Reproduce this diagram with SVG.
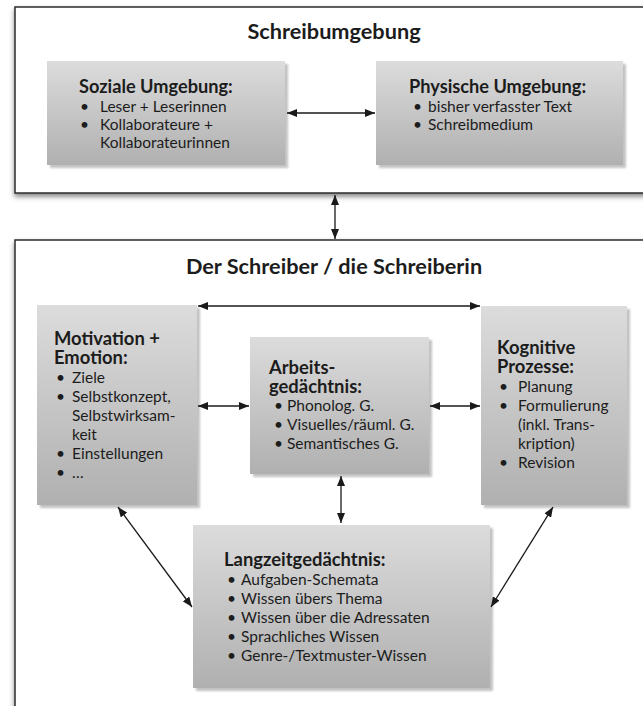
<svg xmlns="http://www.w3.org/2000/svg" width="643" height="706" viewBox="0 0 643 706">
<defs>
<linearGradient id="g" x1="0" y1="0" x2="0" y2="1">
<stop offset="0" stop-color="#dcdcdc"/>
<stop offset="1" stop-color="#b0b0b0"/>
</linearGradient>
<filter id="sh" x="-10%" y="-10%" width="130%" height="130%">
<feDropShadow dx="3" dy="3" stdDeviation="1.2" flood-color="#9a9a9a" flood-opacity="0.6"/>
</filter>
<filter id="osh" x="-10%" y="-10%" width="130%" height="130%">
<feDropShadow dx="0" dy="3" stdDeviation="2.5" flood-color="#555" flood-opacity="0.7"/>
</filter>
<marker id="ah" viewBox="0 0 10 8" refX="10" refY="4" markerWidth="10" markerHeight="8" markerUnits="userSpaceOnUse" orient="auto-start-reverse">
<path d="M0,0 L10,4 L0,8 z" fill="#1a1a1a"/>
</marker>
<style>
text{font-family:Lato,"Open Sans","Liberation Sans",sans-serif;fill:#1c1c1c}
.h{font-weight:bold;font-size:21.7px}
.t{font-weight:bold;font-size:18.2px}
.b{font-size:15.5px}
.tl{font-weight:bold;font-size:18.4px}
.bl{font-size:15.5px}
.box{fill:url(#g);filter:url(#sh)}
.outer{fill:#fff;stroke:#2b2b2b;stroke-width:1.5;filter:url(#osh)}
.c{fill:none;stroke:#1a1a1a;stroke-width:1.3;marker-start:url(#ah);marker-end:url(#ah)}
</style>
</defs>
<rect width="643" height="706" fill="#fff"/>
<g id="schreibumgebung">
<rect class="outer" x="15" y="7" width="660" height="186"/>
<text class="h" x="334" y="39" text-anchor="middle">Schreibumgebung</text>
</g>
<g id="schreiber">
<rect class="outer" x="15" y="240" width="660" height="480"/>
<text class="h" x="334" y="274" text-anchor="middle">Der Schreiber / die Schreiberin</text>
</g>
<g id="soziale">
<rect class="box" x="47" y="61" width="238" height="104"/>
<text class="t" x="79" y="93">Soziale Umgebung:</text>
<text class="b"><tspan x="80" y="112">•</tspan><tspan x="100" y="112">Leser + Leserinnen</tspan><tspan x="80" y="130">•</tspan><tspan x="100" y="130">Kollaborateure +</tspan><tspan x="100" y="148">Kollaborateurinnen</tspan></text>
</g>
<g id="physische">
<rect class="box" x="376" y="61" width="247" height="104"/>
<text class="t" x="409" y="93">Physische Umgebung:</text>
<text class="b"><tspan x="413" y="112">•</tspan><tspan x="428" y="112">bisher verfasster Text</tspan><tspan x="413" y="130">•</tspan><tspan x="428" y="130">Schreibmedium</tspan></text>
</g>
<g id="motivation">
<rect class="box" x="37" y="305" width="160" height="200"/>
<text class="tl"><tspan x="54" y="345">Motivation +</tspan><tspan x="54" y="364">Emotion:</tspan></text>
<text class="bl"><tspan x="56" y="383">•</tspan><tspan x="72" y="383">Ziele</tspan><tspan x="56" y="402">•</tspan><tspan x="72" y="402">Selbstkonzept,</tspan><tspan x="72" y="421">Selbstwirksam-</tspan><tspan x="72" y="440">keit</tspan><tspan x="56" y="459">•</tspan><tspan x="72" y="459">Einstellungen</tspan><tspan x="56" y="478">•</tspan><tspan x="72" y="478">…</tspan></text>
</g>
<g id="arbeitsgedaechtnis">
<rect class="box" x="250" y="337" width="179" height="137"/>
<text class="tl"><tspan x="269" y="374">Arbeits-</tspan><tspan x="269" y="393">gedächtnis:</tspan></text>
<text class="bl"><tspan x="274" y="411">•</tspan><tspan x="287" y="411">Phonolog. G.</tspan><tspan x="274" y="430">•</tspan><tspan x="287" y="430">Visuelles/räuml. G.</tspan><tspan x="274" y="449">•</tspan><tspan x="287" y="449">Semantisches G.</tspan></text>
</g>
<g id="kognitive">
<rect class="box" x="481" y="306" width="146" height="199"/>
<text class="tl"><tspan x="497" y="354">Kognitive</tspan><tspan x="497" y="373">Prozesse:</tspan></text>
<text class="bl"><tspan x="499" y="392">•</tspan><tspan x="518" y="392">Planung</tspan><tspan x="499" y="411">•</tspan><tspan x="518" y="411">Formulierung</tspan><tspan x="518" y="430">(inkl. Trans-</tspan><tspan x="518" y="449">kription)</tspan><tspan x="499" y="468">•</tspan><tspan x="518" y="468">Revision</tspan></text>
</g>
<g id="langzeitgedaechtnis">
<rect class="box" x="193" y="525" width="297" height="163"/>
<text class="tl" x="224" y="566">Langzeitgedächtnis:</text>
<text class="bl"><tspan x="227" y="585">•</tspan><tspan x="241" y="585">Aufgaben-Schemata</tspan><tspan x="227" y="604">•</tspan><tspan x="241" y="604">Wissen übers Thema</tspan><tspan x="227" y="623">•</tspan><tspan x="241" y="623">Wissen über die Adressaten</tspan><tspan x="227" y="642">•</tspan><tspan x="241" y="642">Sprachliches Wissen</tspan><tspan x="227" y="661">•</tspan><tspan x="241" y="661">Genre-/Textmuster-Wissen</tspan></text>
</g>
<g id="connectors">
<path class="c" d="M287,113 L375,113"/>
<path class="c" d="M335,195 L335,239"/>
<path class="c" d="M198,306 L480,306"/>
<path class="c" d="M198,406 L249,406"/>
<path class="c" d="M430,406 L480,406"/>
<path class="c" d="M341,476 L341,523"/>
<path class="c" d="M118,507 L192,607"/>
<path class="c" d="M553,507 L491,607"/>
</g>
</svg>
